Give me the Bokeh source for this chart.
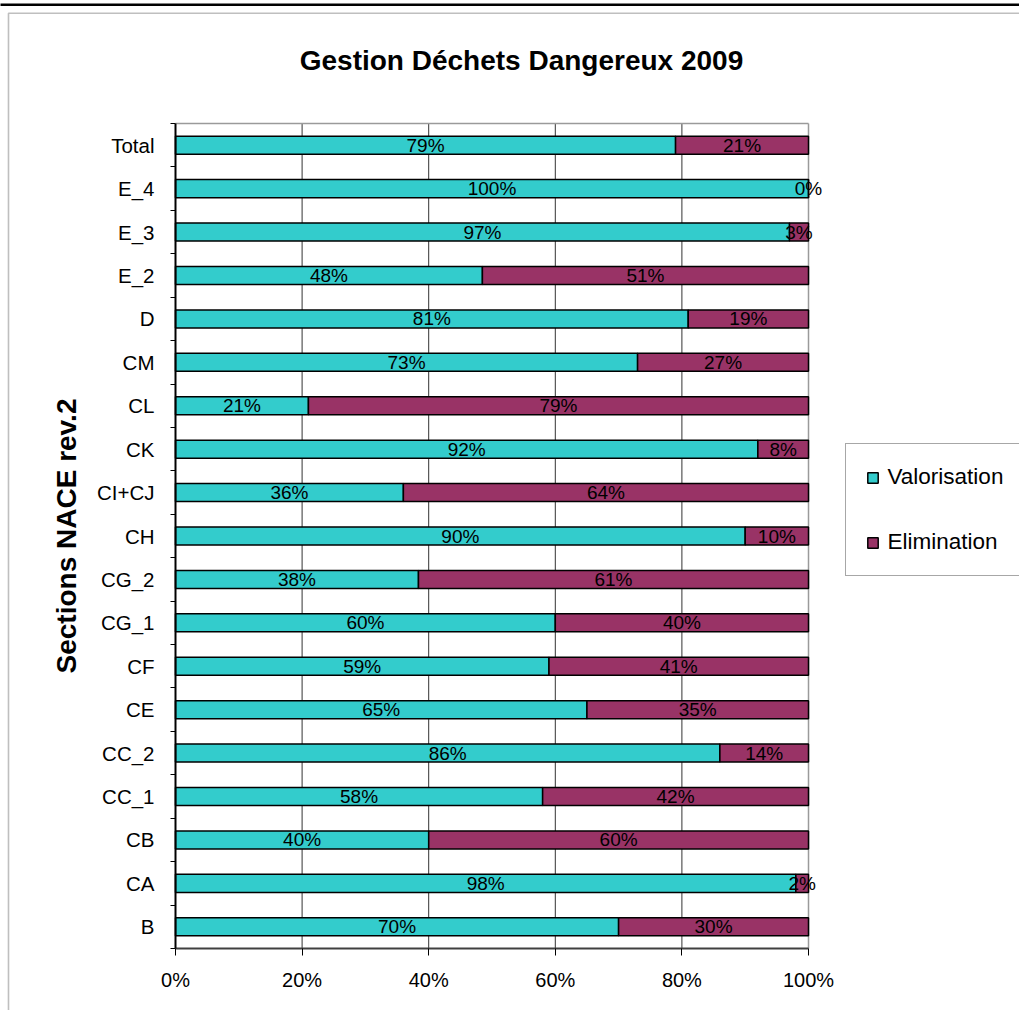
import math
from bokeh.plotting import figure
from bokeh.models import (Range1d, FixedTicker, NumeralTickFormatter, Legend, LegendItem,
                          LabelSet, Label, ColumnDataSource, BoxAnnotation, LinearAxis)
from bokeh.core.properties import value
from bokeh.embed import file_html
from bokeh.resources import INLINE

# Sections NACE rev.2, listed from top to bottom
sections = ["Total", "E_4", "E_3", "E_2", "D", "CM", "CL", "CK", "CI+CJ", "CH",
            "CG_2", "CG_1", "CF", "CE", "CC_2", "CC_1", "CB", "CA", "B"]
# Shares (%) of hazardous waste recovered / disposed of
valorisation = [79, 100, 97, 48, 81, 73, 21, 92, 36, 90, 38, 60, 59, 65, 86, 58, 40, 98, 70]
elimination = [21, 0, 3, 51, 19, 27, 79, 8, 64, 10, 61, 40, 41, 35, 14, 42, 60, 2, 30]
x_ticks = [0, 0.2, 0.4, 0.6, 0.8, 1.0]

TEAL = "#33CCCC"
PLUM = "#993366"
FONT = "Liberation Sans"

W, H = 1019, 1010
# plot area inside the canvas (pixels)
AREA_L, AREA_R, AREA_T, AREA_B = 175, 808, 123, 948

n = len(sections)
ypos = [n - 1 - i for i in range(n)]
totals = [v + e for v, e in zip(valorisation, elimination)]
val_frac = [v / t for v, t in zip(valorisation, totals)]
eli_frac = [e / t for e, t in zip(elimination, totals)]

src = ColumnDataSource(dict(
    y=ypos,
    v0=[0.0] * n,
    v1=val_frac,
    e1=[a + b for a, b in zip(val_frac, eli_frac)],
    vmid=[a / 2 for a in val_frac],
    emid=[a + b / 2 for a, b in zip(val_frac, eli_frac)],
    vlab=[f"{v}%" for v in valorisation],
    elab=[f"{e}%" for e in elimination],
))

# the frame fills the whole canvas; ranges are stretched so that 0..1 and the
# category band land on the plot area, leaving room for title, labels and legend
px_x = (AREA_R - AREA_L) / 1.0
px_y = (AREA_B - AREA_T) / n
y_lo, y_hi = -0.5, n - 0.5
x_range = Range1d(-AREA_L / px_x, (W - AREA_L) / px_x)
y_range = Range1d(y_lo - (H - AREA_B) / px_y, y_hi + AREA_T / px_y)

p = figure(width=W, height=H, output_backend="svg", toolbar_location=None,
           x_range=x_range, y_range=y_range,
           x_axis_location=None, y_axis_location=None,
           min_border=0, min_border_left=0, min_border_right=0,
           min_border_top=0, min_border_bottom=0)
p.background_fill_color = "white"
p.border_fill_color = "white"
p.outline_line_color = None
p.xgrid.grid_line_color = None
p.ygrid.grid_line_color = None

# vertical grid lines at the percentage ticks
p.segment(x0=x_ticks[1:-1], x1=x_ticks[1:-1], y0=[y_lo] * 4, y1=[y_hi] * 4,
          line_color="#333333", line_width=1)
# grey plot-area border (top and right)
p.segment(x0=[0, 1], x1=[1, 1], y0=[y_hi, y_lo], y1=[y_hi, y_hi],
          line_color="#9a9a9a", line_width=1.5)

bar_h = 0.415
r_val = p.hbar(y="y", left="v0", right="v1", height=bar_h, source=src,
               fill_color=TEAL, line_color="black", line_width=1.5)
r_eli = p.hbar(y="y", left="v1", right="e1", height=bar_h, source=src,
               fill_color=PLUM, line_color="black", line_width=1.5)

# axis lines
p.segment(x0=[0], x1=[1], y0=[y_lo], y1=[y_lo], line_color="#404040", line_width=2)
p.segment(x0=[0], x1=[0], y0=[y_lo], y1=[y_hi], line_color="black", line_width=2)

label_kw = dict(y="y", source=src, text_align="center", text_baseline="middle",
                text_font=value(FONT), text_font_size="19px", text_color="black")
p.add_layout(LabelSet(x="vmid", text="vlab", **label_kw))
p.add_layout(LabelSet(x="emid", text="elab", **label_kw))

# x axis: percentages
xaxis = LinearAxis(fixed_location=y_lo)
xaxis.ticker = FixedTicker(ticks=x_ticks)
xaxis.formatter = NumeralTickFormatter(format="0%")
xaxis.major_tick_out = 7
xaxis.major_tick_in = 0
xaxis.major_tick_line_color = "black"
xaxis.minor_tick_line_color = None
xaxis.axis_line_color = None
xaxis.major_label_text_font = FONT
xaxis.major_label_text_font_size = "20px"
xaxis.major_label_text_color = "black"
xaxis.major_label_standoff = 13
p.add_layout(xaxis, "below")

# y axis: section names at bar centres, ticks between the bars
yaxis = LinearAxis(fixed_location=0)
yaxis.ticker = FixedTicker(ticks=ypos, minor_ticks=[i - 0.5 for i in range(n + 1)])
yaxis.major_label_overrides = {y: s for y, s in zip(ypos, sections)}
yaxis.major_tick_out = 0
yaxis.major_tick_in = 0
yaxis.major_tick_line_color = None
yaxis.minor_tick_out = 5
yaxis.minor_tick_in = 0
yaxis.minor_tick_line_color = "black"
yaxis.axis_line_color = None
yaxis.major_label_text_font = FONT
yaxis.major_label_text_font_size = "20.5px"
yaxis.major_label_text_color = "black"
yaxis.major_label_standoff = 16
p.add_layout(yaxis, "left")

# y axis title, centred on the category band
p.add_layout(Label(x=66, y=(AREA_T + AREA_B) / 2, x_units="canvas", y_units="canvas",
                   text="Sections NACE rev.2", angle=math.pi / 2,
                   text_align="center", text_baseline="middle",
                   text_font=FONT, text_font_size="28px", text_font_style="bold",
                   text_color="black"))

legend = Legend(items=[LegendItem(label="Valorisation", renderers=[r_val]),
                       LegendItem(label="Elimination", renderers=[r_eli])],
                location=(844.5, H - 576), orientation="vertical",
                padding=20, spacing=39, margin=0,
                label_height=24, glyph_height=13, glyph_width=13, label_standoff=9,
                label_text_font=FONT, label_text_font_size="22.5px",
                label_text_color="black",
                border_line_color="#505050", border_line_width=1.5,
                background_fill_color="white", background_fill_alpha=1)
p.add_layout(legend, "center")

p.add_layout(Label(x=521, y=60, x_units="canvas", y_units="canvas",
                   text="Gestion Déchets Dangereux 2009", text_align="center",
                   text_baseline="middle", text_font=FONT, text_font_size="28px",
                   text_font_style="bold", text_color="black"))

# page frame: heavy rule on top, thin chart-area border
p.add_layout(BoxAnnotation(left=-10, right=1100, top=3, bottom=5.5,
                           left_units="canvas", right_units="canvas",
                           top_units="canvas", bottom_units="canvas",
                           fill_color="black", fill_alpha=1, line_color=None))
p.add_layout(BoxAnnotation(left=8, right=1100, top=12.8, bottom=1100,
                           left_units="canvas", right_units="canvas",
                           top_units="canvas", bottom_units="canvas",
                           fill_alpha=0, line_color="#2a2a2a", line_width=1.6))

open("out.html", "w").write(file_html(p, INLINE))
